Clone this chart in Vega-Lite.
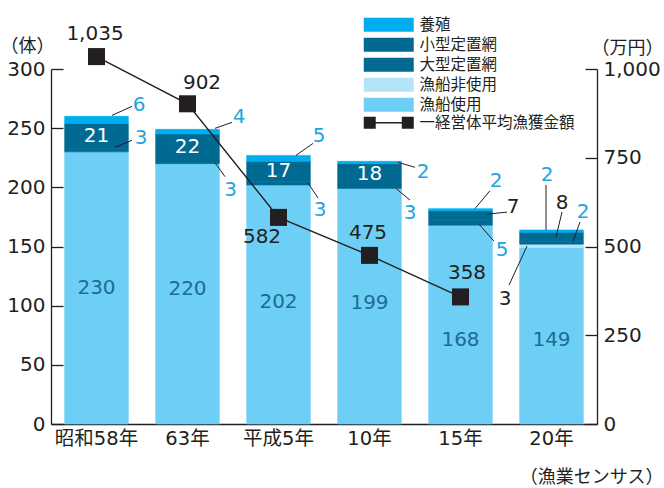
{
  "$schema": "https://vega.github.io/schema/vega-lite/v6.json",
  "width": 546,
  "height": 355,
  "autosize": "none",
  "padding": {"left": 51, "top": 69, "right": 67, "bottom": 64},
  "background": "white",
  "config": {
    "view": {"stroke": null},
    "font": "DejaVu Sans, Noto Sans CJK JP",
    "text": {"fontSize": 20, "font": "DejaVu Sans, Noto Sans CJK JP"},
    "axis": {
      "domainColor": "#231f20", "domainWidth": 1.3,
      "tickColor": "#231f20", "tickWidth": 1.3,
      "labelColor": "#231f20", "labelFont": "DejaVu Sans, Noto Sans CJK JP", "labelFontSize": 20,
      "grid": false,
      "titleFont": "Noto Sans CJK JP", "titleFontSize": 18, "titleFontWeight": "normal",
      "titleColor": "#231f20", "titleAngle": 0, "titleBaseline": "middle"
    },
    "axisX": {"ticks": false, "labelFontSize": 19.5, "labelPadding": 5, "labelAngle": 0},
    "axisY": {"tickSize": -12, "labelPadding": 18},
    "legend": {
      "orient": "none", "title": null, "padding": 0,
      "labelFont": "Noto Sans CJK JP", "labelFontSize": 15.5, "labelColor": "#231f20",
      "labelOffset": 23, "labelLimit": 300, "symbolStrokeWidth": 0, "symbolSize": 196, "rowPadding": 3
    }
  },
  "datasets": {
    "bars": [
      {"year": "昭和58年", "series": "漁船使用", "value": 230},
      {"year": "昭和58年", "series": "大型定置網", "value": 3},
      {"year": "昭和58年", "series": "小型定置網", "value": 21},
      {"year": "昭和58年", "series": "養殖", "value": 6},
      {"year": "63年", "series": "漁船使用", "value": 220},
      {"year": "63年", "series": "大型定置網", "value": 3},
      {"year": "63年", "series": "小型定置網", "value": 22},
      {"year": "63年", "series": "養殖", "value": 4},
      {"year": "平成5年", "series": "漁船使用", "value": 202},
      {"year": "平成5年", "series": "大型定置網", "value": 3},
      {"year": "平成5年", "series": "小型定置網", "value": 17},
      {"year": "平成5年", "series": "養殖", "value": 5},
      {"year": "10年", "series": "漁船使用", "value": 199},
      {"year": "10年", "series": "大型定置網", "value": 3},
      {"year": "10年", "series": "小型定置網", "value": 18},
      {"year": "10年", "series": "養殖", "value": 2},
      {"year": "15年", "series": "漁船使用", "value": 168},
      {"year": "15年", "series": "大型定置網", "value": 5},
      {"year": "15年", "series": "小型定置網", "value": 7},
      {"year": "15年", "series": "養殖", "value": 2},
      {"year": "20年", "series": "漁船使用", "value": 149},
      {"year": "20年", "series": "漁船非使用", "value": 3},
      {"year": "20年", "series": "大型定置網", "value": 2},
      {"year": "20年", "series": "小型定置網", "value": 8},
      {"year": "20年", "series": "養殖", "value": 2}
    ],
    "income": [
      {"year": "昭和58年", "amount": 1035},
      {"year": "63年", "amount": 902},
      {"year": "平成5年", "amount": 582},
      {"year": "10年", "amount": 475},
      {"year": "15年", "amount": 358}
    ]
  },
  "layer": [
    {
      "data": {"name": "bars"},
      "transform": [
        {"calculate": "indexof(['漁船使用','漁船非使用','大型定置網','小型定置網','養殖'], datum.series)", "as": "k"},
        {"stack": "value", "groupby": ["year"], "sort": [{"field": "k"}], "as": ["v0", "v1"]},
        {"calculate": "(datum.v0 + datum.v1) / 2", "as": "mid"}
      ],
      "encoding": {
        "x": {
          "field": "year", "type": "nominal",
          "sort": ["昭和58年", "63年", "平成5年", "10年", "15年", "20年"],
          "scale": {"paddingInner": 0.3, "paddingOuter": 0.15},
          "axis": {"title": "（漁業センサス）", "titleX": 612, "titleY": 53, "titleAlign": "right"}
        },
        "y": {
          "field": "v1", "type": "quantitative",
          "scale": {"domain": [0, 300], "nice": false},
          "axis": {"title": "（体）", "values": [0, 50, 100, 150, 200, 250, 300], "titleX": -51, "titleY": -23, "titleAlign": "left"}
        }
      },
      "layer": [
        {
          "mark": {"type": "bar", "strokeWidth": 0.6},
          "encoding": {
            "y2": {"field": "v0"},
            "color": {
              "field": "series", "type": "nominal",
              "scale": {
                "domain": ["養殖", "小型定置網", "大型定置網", "漁船非使用", "漁船使用"],
                "range": ["#00aeef", "#006a92", "#006a92", "#b3e4f8", "#6dcff6"]
              },
              "legend": {"legendX": 330, "legendY": -52, "symbolType": "M-3.57,-1H3.57V1H-3.57Z"}
            },
            "stroke": {
              "field": "series", "type": "nominal",
              "scale": {
                "domain": ["養殖", "小型定置網", "大型定置網", "漁船非使用", "漁船使用"],
                "range": ["#00aeef", "#006a92", "#006a92", "#b3e4f8", "#6dcff6"]
              },
              "legend": null
            }
          }
        },
        {
          "transform": [{"filter": "datum.series === '小型定置網' && datum.value > 10"}],
          "mark": {"type": "text", "color": "white"},
          "encoding": {"y": {"field": "mid", "type": "quantitative", "scale": {"domain": [0, 300]}}, "text": {"field": "value", "type": "quantitative"}}
        },
        {
          "transform": [{"filter": "datum.series === '漁船使用' && (datum.year === '昭和58年')"}],
          "mark": {"type": "text", "color": "#1c6d91", "dy": 0},
          "encoding": {"y": {"field": "mid", "type": "quantitative", "scale": {"domain": [0, 300]}}, "text": {"field": "value", "type": "quantitative"}}
        },
        {
          "transform": [{"filter": "datum.series === '漁船使用' && (datum.year === '63年')"}],
          "mark": {"type": "text", "color": "#1c6d91", "dy": -5},
          "encoding": {"y": {"field": "mid", "type": "quantitative", "scale": {"domain": [0, 300]}}, "text": {"field": "value", "type": "quantitative"}}
        },
        {
          "transform": [{"filter": "datum.series === '漁船使用' && (datum.year === '平成5年')"}],
          "mark": {"type": "text", "color": "#1c6d91", "dy": -2},
          "encoding": {"y": {"field": "mid", "type": "quantitative", "scale": {"domain": [0, 300]}}, "text": {"field": "value", "type": "quantitative"}}
        },
        {
          "transform": [{"filter": "datum.series === '漁船使用' && (datum.year === '10年')"}],
          "mark": {"type": "text", "color": "#1c6d91", "dy": -3.5},
          "encoding": {"y": {"field": "mid", "type": "quantitative", "scale": {"domain": [0, 300]}}, "text": {"field": "value", "type": "quantitative"}}
        },
        {
          "transform": [{"filter": "datum.series === '漁船使用' && (datum.year === '15年')"}],
          "mark": {"type": "text", "color": "#1c6d91", "dy": 15.5},
          "encoding": {"y": {"field": "mid", "type": "quantitative", "scale": {"domain": [0, 300]}}, "text": {"field": "value", "type": "quantitative"}}
        },
        {
          "transform": [{"filter": "datum.series === '漁船使用' && (datum.year === '20年')"}],
          "mark": {"type": "text", "color": "#1c6d91", "dy": 4},
          "encoding": {"y": {"field": "mid", "type": "quantitative", "scale": {"domain": [0, 300]}}, "text": {"field": "value", "type": "quantitative"}}
        },
        {
          "transform": [{"filter": "datum.year === '昭和58年' && datum.series === '養殖'"}],
          "layer": [
            {"mark": {"type": "rule", "xOffset": 15.5, "yOffset": -1, "x2Offset": 35.5, "y2Offset": -10, "color": "#231f20", "strokeWidth": 1}, "encoding": {"x2": {"field": "year"}, "y2": {"field": "v1"}}},
            {"mark": {"type": "text", "dx": 42.5, "dy": -11, "color": "#1ea5e0"}, "encoding": {"text": {"field": "value", "type": "quantitative"}}}
          ]
        },
        {
          "transform": [{"filter": "datum.year === '昭和58年' && datum.series === '大型定置網'"}],
          "layer": [
            {"mark": {"type": "rule", "xOffset": 18.5, "yOffset": -1, "x2Offset": 35.5, "y2Offset": -8, "color": "#231f20", "strokeWidth": 1}, "encoding": {"x2": {"field": "year"}, "y2": {"field": "v1"}}},
            {"mark": {"type": "text", "dx": 44.5, "dy": -10, "color": "#1ea5e0"}, "encoding": {"text": {"field": "value", "type": "quantitative"}}}
          ]
        },
        {
          "transform": [{"filter": "datum.year === '63年' && datum.series === '養殖'"}],
          "layer": [
            {"mark": {"type": "rule", "xOffset": 27.5, "yOffset": -1, "x2Offset": 44.5, "y2Offset": -7, "color": "#231f20", "strokeWidth": 1}, "encoding": {"x2": {"field": "year"}, "y2": {"field": "v1"}}},
            {"mark": {"type": "text", "dx": 51.5, "dy": -12, "color": "#1ea5e0"}, "encoding": {"text": {"field": "value", "type": "quantitative"}}}
          ]
        },
        {
          "transform": [{"filter": "datum.year === '63年' && datum.series === '大型定置網'"}],
          "encoding": {"y": {"field": "v0", "type": "quantitative", "scale": {"domain": [0, 300]}}},
          "layer": [
            {"mark": {"type": "rule", "xOffset": 27.5, "yOffset": -1, "x2Offset": 37.5, "y2Offset": 13, "color": "#231f20", "strokeWidth": 1}, "encoding": {"x2": {"field": "year"}, "y2": {"field": "v0"}}},
            {"mark": {"type": "text", "dx": 43, "dy": 26, "color": "#1ea5e0"}, "encoding": {"text": {"field": "value", "type": "quantitative"}}}
          ]
        },
        {
          "transform": [{"filter": "datum.year === '平成5年' && datum.series === '養殖'"}],
          "layer": [
            {"mark": {"type": "rule", "xOffset": 17.5, "yOffset": 0, "x2Offset": 34.5, "y2Offset": -12, "color": "#231f20", "strokeWidth": 1}, "encoding": {"x2": {"field": "year"}, "y2": {"field": "v1"}}},
            {"mark": {"type": "text", "dx": 40.5, "dy": -19, "color": "#1ea5e0"}, "encoding": {"text": {"field": "value", "type": "quantitative"}}}
          ]
        },
        {
          "transform": [{"filter": "datum.year === '平成5年' && datum.series === '大型定置網'"}],
          "encoding": {"y": {"field": "v0", "type": "quantitative", "scale": {"domain": [0, 300]}}},
          "layer": [
            {"mark": {"type": "rule", "xOffset": 29.5, "yOffset": -2, "x2Offset": 39.5, "y2Offset": 13, "color": "#231f20", "strokeWidth": 1}, "encoding": {"x2": {"field": "year"}, "y2": {"field": "v0"}}},
            {"mark": {"type": "text", "dx": 41.5, "dy": 25, "color": "#1ea5e0"}, "encoding": {"text": {"field": "value", "type": "quantitative"}}}
          ]
        },
        {
          "transform": [{"filter": "datum.year === '10年' && datum.series === '養殖'"}],
          "layer": [
            {"mark": {"type": "rule", "xOffset": 28.5, "yOffset": 1, "x2Offset": 45.5, "y2Offset": 6, "color": "#231f20", "strokeWidth": 1}, "encoding": {"x2": {"field": "year"}, "y2": {"field": "v1"}}},
            {"mark": {"type": "text", "dx": 53.5, "dy": 11, "color": "#1ea5e0"}, "encoding": {"text": {"field": "value", "type": "quantitative"}}}
          ]
        },
        {
          "transform": [{"filter": "datum.year === '10年' && datum.series === '大型定置網'"}],
          "encoding": {"y": {"field": "v0", "type": "quantitative", "scale": {"domain": [0, 300]}}},
          "layer": [
            {"mark": {"type": "rule", "xOffset": 26.5, "yOffset": 0, "x2Offset": 40.5, "y2Offset": 11.5, "color": "#231f20", "strokeWidth": 1}, "encoding": {"x2": {"field": "year"}, "y2": {"field": "v0"}}},
            {"mark": {"type": "text", "dx": 40.5, "dy": 24.5, "color": "#1ea5e0"}, "encoding": {"text": {"field": "value", "type": "quantitative"}}}
          ]
        },
        {
          "transform": [{"filter": "datum.year === '15年' && datum.series === '養殖'"}],
          "layer": [
            {"mark": {"type": "rule", "xOffset": 14.5, "yOffset": 0, "x2Offset": 29.5, "y2Offset": -18, "color": "#231f20", "strokeWidth": 1}, "encoding": {"x2": {"field": "year"}, "y2": {"field": "v1"}}},
            {"mark": {"type": "text", "dx": 35.5, "dy": -27.5, "color": "#1ea5e0"}, "encoding": {"text": {"field": "value", "type": "quantitative"}}}
          ]
        },
        {
          "transform": [{"filter": "datum.year === '15年' && datum.series === '小型定置網'"}],
          "encoding": {"y": {"field": "mid", "type": "quantitative", "scale": {"domain": [0, 300]}}},
          "layer": [
            {"mark": {"type": "rule", "xOffset": 26.5, "yOffset": -1, "x2Offset": 46.5, "y2Offset": -3, "color": "#231f20", "strokeWidth": 1}, "encoding": {"x2": {"field": "year"}, "y2": {"field": "mid"}}},
            {"mark": {"type": "text", "dx": 52.5, "dy": -8, "color": "#231f20"}, "encoding": {"text": {"field": "value", "type": "quantitative"}}}
          ]
        },
        {
          "transform": [{"filter": "datum.year === '15年' && datum.series === '大型定置網'"}],
          "encoding": {"y": {"field": "v0", "type": "quantitative", "scale": {"domain": [0, 300]}}},
          "layer": [
            {"mark": {"type": "rule", "xOffset": 18.5, "yOffset": -1, "x2Offset": 33.5, "y2Offset": 16, "color": "#231f20", "strokeWidth": 1}, "encoding": {"x2": {"field": "year"}, "y2": {"field": "v0"}}},
            {"mark": {"type": "text", "dx": 41.5, "dy": 25, "color": "#1ea5e0"}, "encoding": {"text": {"field": "value", "type": "quantitative"}}}
          ]
        },
        {
          "transform": [{"filter": "datum.year === '20年' && datum.series === '養殖'"}],
          "layer": [
            {"mark": {"type": "rule", "xOffset": -5.5, "yOffset": 0, "x2Offset": -5.5, "y2Offset": -45, "color": "#231f20", "strokeWidth": 1}, "encoding": {"x2": {"field": "year"}, "y2": {"field": "v1"}}},
            {"mark": {"type": "text", "dx": -4.5, "dy": -55, "color": "#1ea5e0"}, "encoding": {"text": {"field": "value", "type": "quantitative"}}}
          ]
        },
        {
          "transform": [{"filter": "datum.year === '20年' && datum.series === '小型定置網'"}],
          "encoding": {"y": {"field": "mid", "type": "quantitative", "scale": {"domain": [0, 300]}}},
          "layer": [
            {"mark": {"type": "rule", "xOffset": 4.5, "yOffset": 0, "x2Offset": 10.5, "y2Offset": -25, "color": "#231f20", "strokeWidth": 1}, "encoding": {"x2": {"field": "year"}, "y2": {"field": "mid"}}},
            {"mark": {"type": "text", "dx": 10.5, "dy": -34.5, "color": "#231f20"}, "encoding": {"text": {"field": "value", "type": "quantitative"}}}
          ]
        },
        {
          "transform": [{"filter": "datum.year === '20年' && datum.series === '大型定置網'"}],
          "encoding": {"y": {"field": "mid", "type": "quantitative", "scale": {"domain": [0, 300]}}},
          "layer": [
            {"mark": {"type": "rule", "xOffset": 21.5, "yOffset": -1.5, "x2Offset": 28.5, "y2Offset": -21, "color": "#231f20", "strokeWidth": 1}, "encoding": {"x2": {"field": "year"}, "y2": {"field": "mid"}}},
            {"mark": {"type": "text", "dx": 31.5, "dy": -30.5, "color": "#1ea5e0"}, "encoding": {"text": {"field": "value", "type": "quantitative"}}}
          ]
        },
        {
          "transform": [{"filter": "datum.year === '20年' && datum.series === '漁船非使用'"}],
          "layer": [
            {"mark": {"type": "rule", "xOffset": -24.5, "yOffset": 2, "x2Offset": -42.5, "y2Offset": 41, "color": "#231f20", "strokeWidth": 1}, "encoding": {"x2": {"field": "year"}, "y2": {"field": "v1"}}},
            {"mark": {"type": "text", "dx": -46.5, "dy": 55, "color": "#231f20"}, "encoding": {"text": {"field": "value", "type": "quantitative"}}}
          ]
        }
      ]
    },
    {
      "data": {"name": "income"},
      "encoding": {
        "x": {"field": "year", "type": "nominal", "sort": ["昭和58年", "63年", "平成5年", "10年", "15年", "20年"]},
        "y": {
          "field": "amount", "type": "quantitative",
          "scale": {"domain": [0, 1000], "nice": false},
          "axis": {"orient": "right", "title": "（万円）", "values": [0, 250, 500, 750, 1000], "format": ",d", "titleX": -6, "titleY": -21, "titleAlign": "left"}
        }
      },
      "layer": [
        {"mark": {"type": "line", "color": "#231f20", "strokeWidth": 1.4}},
        {
          "mark": {"type": "point", "shape": "square", "size": 290, "filled": true, "opacity": 1},
          "encoding": {
            "fill": {
              "datum": "一経営体平均漁獲金額",
              "scale": {"range": ["#231f20"]},
              "legend": {"legendX": 330, "legendY": 46, "symbolType": "M-3.57,-0.86H-1.86V0.86H-3.57Z M-1.86,-0.1H1.86V0.1H-1.86Z M1.86,-0.86H3.57V0.86H1.86Z"}
            }
          }
        },
        {"transform": [{"filter": "datum.year === '昭和58年'"}], "mark": {"type": "text", "dx": -1.5, "dy": -22.5, "color": "#231f20"}, "encoding": {"text": {"field": "amount", "type": "quantitative", "format": ","}}},
        {"transform": [{"filter": "datum.year === '63年'"}], "mark": {"type": "text", "dx": 14.5, "dy": -21, "color": "#231f20"}, "encoding": {"text": {"field": "amount", "type": "quantitative", "format": ","}}},
        {"transform": [{"filter": "datum.year === '平成5年'"}], "mark": {"type": "text", "dx": -16.5, "dy": 20, "color": "#231f20"}, "encoding": {"text": {"field": "amount", "type": "quantitative", "format": ","}}},
        {"transform": [{"filter": "datum.year === '10年'"}], "mark": {"type": "text", "dx": -1.5, "dy": -22, "color": "#231f20"}, "encoding": {"text": {"field": "amount", "type": "quantitative", "format": ","}}},
        {"transform": [{"filter": "datum.year === '15年'"}], "mark": {"type": "text", "dx": 6.5, "dy": -24, "color": "#231f20"}, "encoding": {"text": {"field": "amount", "type": "quantitative", "format": ","}}}
      ]
    }
  ],
  "resolve": {"scale": {"y": "independent"}}
}
